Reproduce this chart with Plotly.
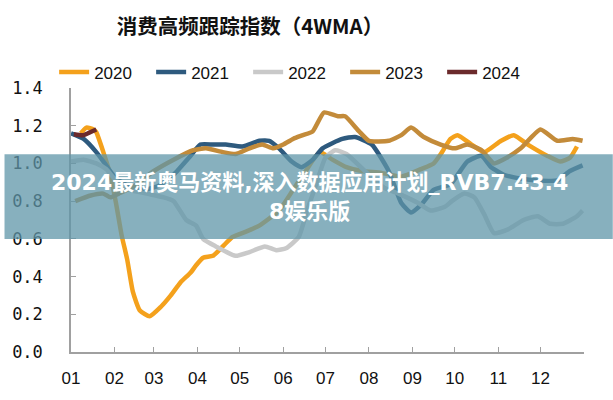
import plotly.graph_objects as go

# ---- data (day of year, 4-week moving average index) ----
month_ticks = [0, 31, 59, 90, 120, 151, 181, 212, 243, 273, 304, 334]
month_labels = ["01", "02", "03", "04", "05", "06", "07", "08", "09", "10", "11", "12"]
years = ["2020", "2021", "2022", "2023", "2024"]

d2020 = [7, 11, 16, 18, 23, 28, 32, 36, 40, 44, 49, 56, 64, 71, 78, 85, 89, 94, 101, 108, 115, 125,
         134, 148, 158, 167, 177, 186, 196, 207, 221, 235, 249, 258, 264, 270, 275, 285, 294, 306,
         315, 325, 339, 348, 355, 360]
v2020 = [1.16, 1.19, 1.18, 1.165, 1.06, 0.94, 0.79, 0.62, 0.49, 0.32, 0.22, 0.19, 0.24, 0.30, 0.37,
         0.42, 0.46, 0.50, 0.51, 0.56, 0.61, 0.64, 0.67, 0.75, 0.86, 0.96, 1.06, 1.02, 0.98, 0.96,
         0.95, 0.93, 0.97, 1.00, 1.06, 1.13, 1.15, 1.10, 1.06, 1.12, 1.15, 1.10, 1.04, 1.01, 1.03, 1.09]

d2021 = [0, 9, 18, 25, 32, 41, 51, 62, 73, 85, 92, 101, 110, 122, 134, 141, 148, 157, 164, 172, 179,
         193, 202, 214, 226, 235, 242, 249, 258, 270, 282, 292, 299, 308, 320, 332, 346, 355, 364]
v2021 = [1.16, 1.13, 1.06, 0.99, 0.92, 0.88, 0.86, 0.88, 0.94, 1.04, 1.10, 1.10, 1.10, 1.09, 1.12,
         1.12, 1.08, 1.01, 0.98, 1.02, 1.08, 1.13, 1.14, 1.10, 0.96, 0.79, 0.74, 0.78, 0.86, 0.89,
         1.01, 1.04, 0.98, 0.94, 0.92, 0.91, 0.91, 0.96, 0.99]

d2022 = [0, 9, 18, 25, 32, 42, 54, 66, 73, 82, 89, 94, 103, 117, 127, 138, 146, 153, 162, 168, 174,
         181, 188, 196, 209, 223, 233, 247, 256, 266, 271, 280, 287, 294, 301, 311, 322, 332, 341,
         350, 360, 364]
v2022 = [1.01, 1.02, 1.00, 0.97, 0.91, 0.86, 0.84, 0.82, 0.80, 0.70, 0.67, 0.60, 0.56, 0.51, 0.53,
         0.56, 0.54, 0.55, 0.61, 0.75, 0.88, 1.03, 1.07, 1.05, 0.96, 0.87, 0.84, 0.79, 0.75, 0.77,
         0.80, 0.84, 0.82, 0.73, 0.63, 0.65, 0.70, 0.72, 0.68, 0.68, 0.72, 0.75]

d2023 = [3, 14, 23, 28, 34, 45, 59, 73, 87, 96, 108, 117, 127, 136, 144, 151, 158, 165, 172, 180,
         190, 195, 205, 212, 226, 235, 242, 251, 263, 273, 282, 292, 301, 310, 320, 334, 346, 357, 364]
v2023 = [0.80, 0.83, 0.84, 0.82, 0.84, 0.88, 0.96, 1.02, 1.07, 1.08, 1.06, 1.05, 1.08, 1.10, 1.08,
         1.10, 1.13, 1.15, 1.17, 1.27, 1.25, 1.25, 1.17, 1.12, 1.12, 1.15, 1.19, 1.14, 1.10, 1.08,
         1.10, 1.07, 1.00, 1.03, 1.08, 1.18, 1.12, 1.13, 1.12]

d2024 = [2, 9, 14, 18]
v2024 = [1.155, 1.15, 1.167, 1.18]

series_x = [d2020, d2021, d2022, d2023, d2024]
series_y = [v2020, v2021, v2022, v2023, v2024]
colors = ["#F4A11C", "#2E5A7E", "#C9C9C9", "#C38B3A", "#6B2A2C"]

W, H = 613, 400
L, R, T, B = 67, 29, 88, 41
pw, ph = W - L - R, H - T - B

fig = go.Figure()
for name, xs, ys, c in zip(years, series_x, series_y, colors):
    fig.add_trace(go.Scatter(x=xs, y=ys, mode="lines", name=name,
                             line=dict(color=c, width=4.5, shape="spline", smoothing=0.5)))

def px_x(p):
    return (p - L) / pw

def px_y(p):
    return (H - B - p) / ph

axis_col = "#A0A0A0"
fig.update_layout(
    width=W, height=H,
    margin=dict(l=L, r=R, t=T, b=B),
    paper_bgcolor="white", plot_bgcolor="white",
    title=dict(text="<b>消费高频跟踪指数（4WMA）</b>", xref="container", yref="container",
               x=250 / W, xanchor="center", y=1 - 27 / H, yanchor="middle",
               font=dict(family="Noto Sans CJK SC", size=20.5, color="#111111")),
    legend=dict(orientation="h", x=px_x(50), xanchor="left", y=px_y(72), yanchor="middle",
                font=dict(family="Liberation Sans", size=17, color="#111111"),
                entrywidth=52, entrywidthmode="pixels", bgcolor="rgba(0,0,0,0)", itemwidth=30),
    xaxis=dict(range=[0, 365], tickvals=month_ticks, ticktext=month_labels, showgrid=False,
               zeroline=False, showline=True, linecolor=axis_col, linewidth=1.5,
               ticks="inside", ticklen=5, tickcolor=axis_col, tickwidth=1.2,
               ticklabelstandoff=10,
               tickfont=dict(family="Liberation Sans", size=17, color="#111111")),
    yaxis=dict(range=[0, 1.4], dtick=0.2, tickformat=".1f", showgrid=False, zeroline=False,
               showline=True, linecolor=axis_col, linewidth=1.5,
               ticks="inside", ticklen=5, tickcolor=axis_col, tickwidth=1.2,
               ticklabelstandoff=23,
               tickfont=dict(family="DejaVu Sans Mono", size=17, color="#111111")),
)

# overlay banner
banner_font = dict(family="DejaVu Sans, Noto Sans CJK SC", size=22, color="white")
fig.add_shape(type="rect", xref="paper", yref="paper", layer="above",
              x0=px_x(0), x1=px_x(W), y0=px_y(243), y1=px_y(156),
              fillcolor="rgba(95,150,168,0.75)", line=dict(width=0))
fig.add_annotation(xref="paper", yref="paper", x=px_x(307), y=px_y(185), showarrow=False,
                   text="<b>2024最新奥马资料,深入数据应用计划_RVB7.43.4</b>", font=banner_font)
fig.add_annotation(xref="paper", yref="paper", x=px_x(307), y=px_y(215), showarrow=False,
                   text="<b>8娱乐版</b>", font=banner_font)

fig.write_html("out.html", config={"displayModeBar": False},
               post_script="document.body.style.margin='0';")
